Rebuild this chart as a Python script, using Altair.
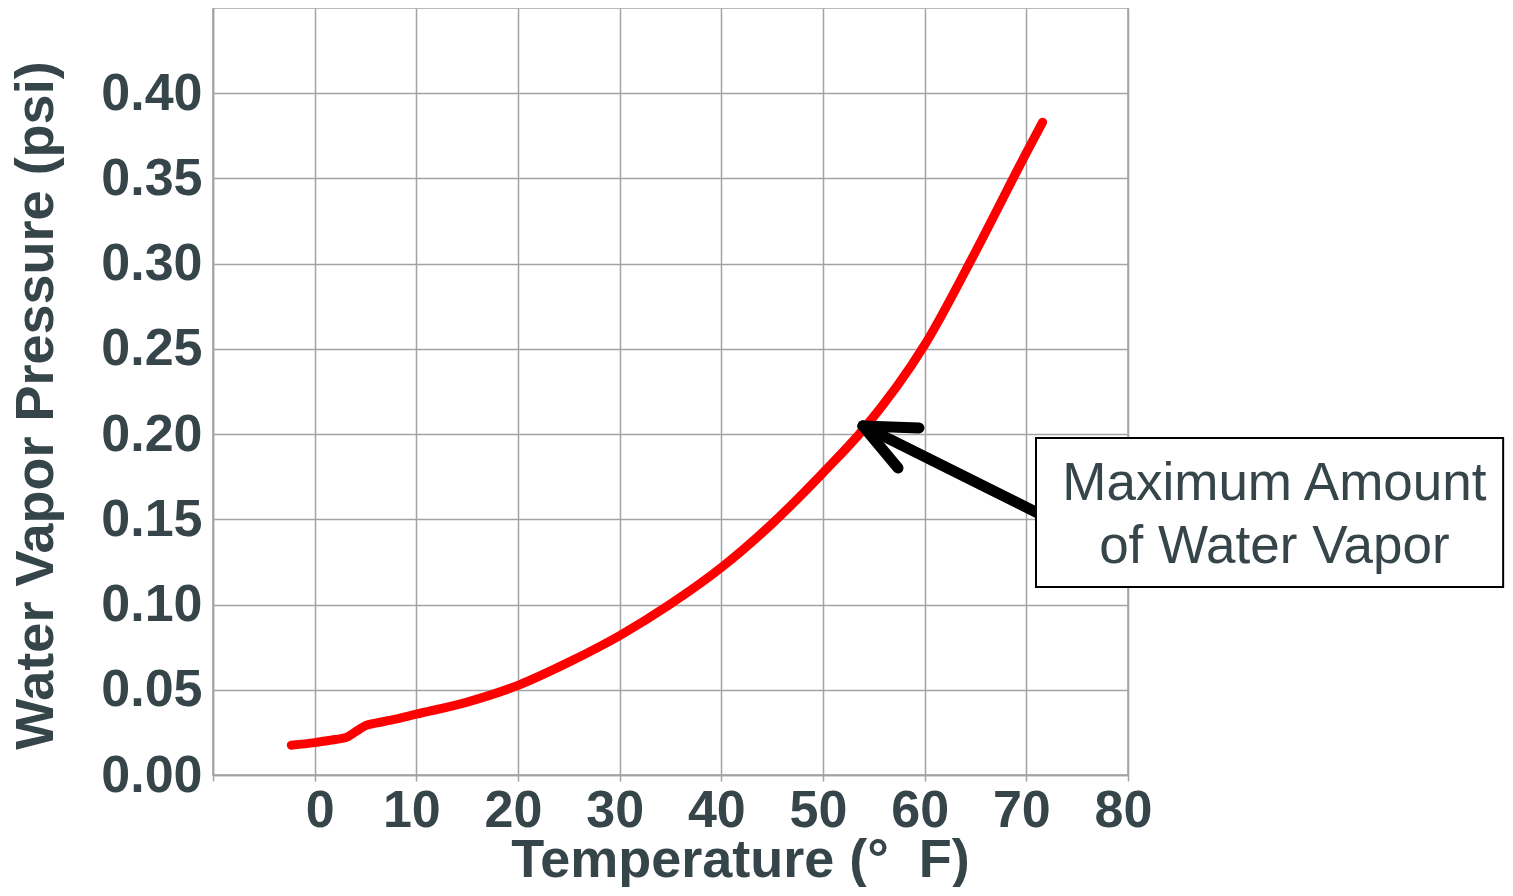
import altair as alt
import pandas as pd

# Curve (temperature in °F, saturation vapour pressure in psi)
temps = [-2.3, 0, 2.0, 3.0, 4.0, 5.0, 6.0, 7.5, 10, 15, 20, 25, 30, 35, 40, 45, 50, 54, 60, 65, 70, 71.6]
pressures = [0.0175, 0.0190, 0.0208, 0.0218, 0.0253, 0.0290, 0.0304, 0.0322, 0.0357, 0.0428, 0.0526,
             0.0662, 0.0818, 0.1003, 0.1217, 0.1475, 0.1773, 0.2030, 0.2523, 0.3070, 0.3650, 0.3830]

x_ticks = [-10, 0, 10, 20, 30, 40, 50, 60, 70, 80]
y_ticks = [0.0, 0.05, 0.10, 0.15, 0.20, 0.25, 0.30, 0.35, 0.40]

# Annotation (in data units)
note_lines = ["Maximum Amount", "of Water Vapor"]
note_x = [94.4, 94.4]
note_y = [0.1613, 0.1244]
box_x = [70.95]
box_x2 = [116.9]
box_y = [0.1977]
box_y2 = [0.1103]
arrow_x0 = [53.93, 53.93, 53.93]
arrow_y0 = [0.2048, 0.2048, 0.2048]
arrow_x1 = [59.44, 57.38, 71.34]
arrow_y1 = [0.2036, 0.1801, 0.1531]

TXT = "#36454a"
GRID = "#a3a3a3"
FONT = "Liberation Sans"

curve = pd.DataFrame({"temp": temps, "pressure": pressures})
arrows = pd.DataFrame({"x0": arrow_x0, "y0": arrow_y0, "x1": arrow_x1, "y1": arrow_y1})
box = pd.DataFrame({"x0": box_x, "x1": box_x2, "y0": box_y, "y1": box_y2})
notes = pd.DataFrame({"x": note_x, "y": note_y, "t": note_lines})

xs = alt.Scale(domain=[-10, 80], nice=False, zero=False)
ys = alt.Scale(domain=[0, 0.45], nice=False)

x_axis = alt.Axis(
    values=x_ticks,
    labelExpr="datum.value < 0 ? '' : datum.label",
    labelFont=FONT, labelFontSize=52, labelFontWeight="bold", labelColor=TXT,
    labelPadding=4, labelFlush=False, labelOverlap=False,
    labelOffset=alt.condition("datum.value === 0", alt.value(5), alt.value(-5)),
    tickSize=6, tickColor=GRID, tickWidth=1.5,
    domainColor=GRID, domainWidth=1.5,
    grid=True, gridColor=GRID, gridWidth=1.5, gridOpacity=1,
    title="Temperature (°\u00a0\u00a0F)", titleFont=FONT, titleFontSize=54, titleFontWeight="bold",
    titleColor=TXT, titleX=527, titleY=101, titleBaseline="alphabetic", titleAlign="center",
)
y_axis = alt.Axis(
    values=y_ticks, format=".2f",
    labelFont=FONT, labelFontSize=52, labelFontWeight="bold", labelColor=TXT,
    labelPadding=11, ticks=False, tickSize=0, labelFlush=False, labelOverlap=False,
    domainColor=GRID, domainWidth=1.5,
    grid=True, gridColor=GRID, gridWidth=1.5, gridOpacity=1,
    title="Water Vapor Pressure (psi)", titleFont=FONT, titleFontSize=54, titleFontWeight="bold",
    titleColor=TXT, titleX=-161, titleY=397, titleBaseline="alphabetic", titleAlign="center",
    titleAngle=270,
)

line = alt.Chart(curve).mark_line(
    color="#ff0000", strokeWidth=9, strokeCap="round", strokeJoin="round", interpolate="monotone"
).encode(
    x=alt.X("temp:Q", scale=xs, axis=x_axis),
    y=alt.Y("pressure:Q", scale=ys, axis=y_axis),
)

arrow = alt.Chart(arrows).mark_rule(color="black", strokeWidth=11, strokeCap="round").encode(
    x=alt.X("x0:Q", scale=xs, axis=x_axis),
    y=alt.Y("y0:Q", scale=ys, axis=y_axis),
    x2="x1:Q",
    y2="y1:Q",
)

rect = alt.Chart(box).mark_rect(fill="white", stroke="black", strokeWidth=2).encode(
    x=alt.X("x0:Q", scale=xs, axis=x_axis),
    x2="x1:Q",
    y=alt.Y("y0:Q", scale=ys, axis=y_axis),
    y2="y1:Q",
)

text = alt.Chart(notes).mark_text(
    font=FONT, fontSize=53, color=TXT, align="center", baseline="alphabetic"
).encode(
    x=alt.X("x:Q", scale=xs, axis=x_axis),
    y=alt.Y("y:Q", scale=ys, axis=y_axis),
    text="t:N",
)

chart = alt.layer(line, arrow, rect, text).properties(
    width=915, height=767,
    autosize=alt.AutoSizeParams(type="none"),
    padding={"left": 205, "top": 0, "right": 377, "bottom": 112},
).configure_view(stroke=GRID, strokeWidth=1.5)

chart.save("out.html", embed_options={"renderer": "svg", "actions": False})
